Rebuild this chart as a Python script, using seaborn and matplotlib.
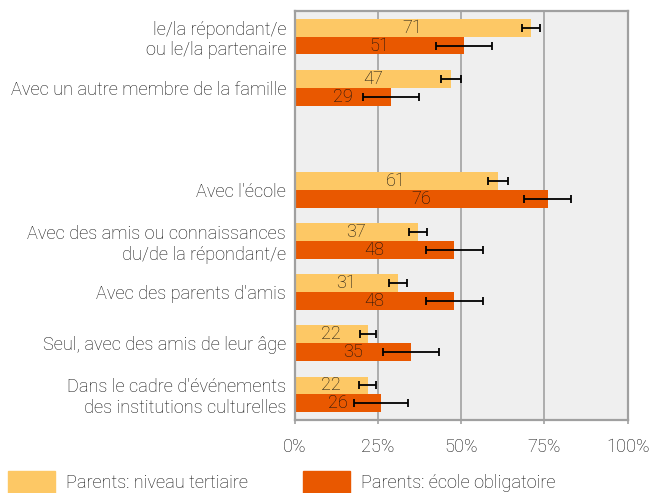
import matplotlib
matplotlib.use("Agg")
import matplotlib.pyplot as plt
import seaborn as sns
import pandas as pd
import numpy as np

categories = [
    "le/la répondant/e\nou le/la partenaire",
    "Avec un autre membre de la famille",
    " ",
    "Avec l'école",
    "Avec des amis ou connaissances\ndu/de la répondant/e",
    "Avec des parents d'amis",
    "Seul, avec des amis de leur âge",
    "Dans le cadre d'événements\ndes institutions culturelles",
]
data_categories = [c for c in categories if c.strip()]
series_names = ["Parents: niveau tertiaire", "Parents: école obligatoire"]
tertiary = [71, 47, 61, 37, 31, 22, 22]
obligatory = [51, 29, 76, 48, 48, 35, 26]
tertiary_err = [2.8, 2.9, 3.0, 2.7, 2.7, 2.4, 2.5]
obligatory_err = [8.4, 8.3, 7.0, 8.5, 8.5, 8.4, 8.0]
xticks = [0, 25, 50, 75, 100]
xtick_labels = ["0%", "25%", "50%", "75%", "100%"]
colors = ["#FDC865", "#E95800"]

df = pd.DataFrame({
    "category": data_categories * 2,
    "value": tertiary + obligatory,
    "err": tertiary_err + obligatory_err,
    "group": [series_names[0]] * 7 + [series_names[1]] * 7,
})

sns.set_theme(style="white")
plt.rcParams["font.family"] = ["Roboto", "DejaVu Sans"]
plt.rcParams["font.weight"] = "light"
text_color = "#111111"
fs = 13.1

fig = plt.figure(figsize=(6.51, 4.93), dpi=100)
ax = fig.add_axes([294.5 / 651, 1 - 420 / 493, (627.7 - 294.5) / 651, (420 - 11) / 493])
sns.barplot(data=df, y="category", x="value", hue="group", order=categories,
            hue_order=series_names, palette=colors, orient="h", errorbar=None,
            width=0.7, saturation=1, linewidth=0, ax=ax, legend=True)
ax.set_facecolor("#EFEFEF")

for container, name in zip(ax.containers, series_names):
    sub = df[df["group"] == name].set_index("category")
    bars = sorted(container.patches, key=lambda p: p.get_y())
    present = [c for c in categories if c in sub.index]
    for bar, cat in zip(bars, present):
        yc = bar.get_y() + bar.get_height() / 2
        ax.errorbar(sub.loc[cat, "value"], yc, xerr=sub.loc[cat, "err"], fmt="none",
                    ecolor="black", elinewidth=1.3, capsize=3, capthick=1.3, zorder=5)
    labels = [f"{bar.get_width():.0f}" for bar in container.patches]
    ax.bar_label(container, labels=labels, label_type="center", fontsize=fs,
                 color=text_color, fontweight="light")

ax.set_xlim(0, 100)
ax.set_ylim(len(categories) - 0.5, -0.5)
ax.set_xticks(xticks)
ax.set_xticklabels(xtick_labels)
ax.xaxis.grid(True, color="#A8A8A8", linewidth=1.3)
ax.set_axisbelow(True)
ax.set_xlabel("")
ax.set_ylabel("")
for s in ax.spines.values():
    s.set_visible(True)
    s.set_color("#A0A0A0")
    s.set_linewidth(1.6)
ax.tick_params(axis="x", length=3, width=1.3, color="#A8A8A8", pad=10,
               labelsize=fs, labelcolor=text_color, bottom=True)
ax.tick_params(axis="y", length=0, pad=6, labelsize=fs, labelcolor=text_color)
for lbl in ax.get_yticklabels() + ax.get_xticklabels():
    lbl.set_fontweight("light")

ax.get_legend().remove()
handles = [plt.Rectangle((0, 0), 1, 1, color=c) for c in colors]
fig.legend(handles, series_names, loc="center left", bbox_to_anchor=(8 / 651, 1 - 482 / 493),
           ncol=2, frameon=False, handlelength=2.6, handleheight=1.4,
           handletextpad=0.6, columnspacing=3.0, borderpad=0, borderaxespad=0,
           labelcolor=text_color, prop={"weight": "light", "size": fs})

fig.savefig("out.png", dpi=100)
